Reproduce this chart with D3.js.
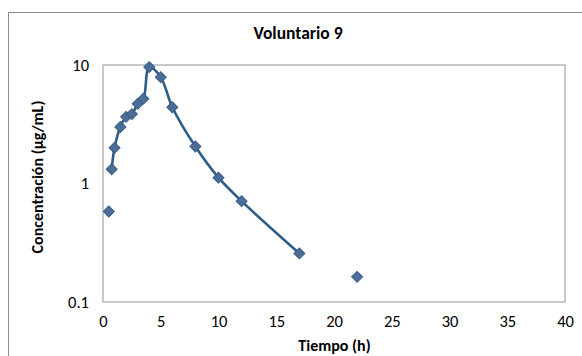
<!DOCTYPE html>
<html>
<head>
<meta charset="utf-8">
<script src="https://cdn.jsdelivr.net/npm/d3@7"></script>
<style>
  body { margin: 0; background: #fff; }
  text { font-family: Calibri, Carlito, "Open Sans", "Noto Sans", sans-serif; fill: #000; }
</style>
</head>
<body>
<script>
// measured points (h, ug/mL)
var tiempo = [0.5, 0.75, 1, 1.5, 2, 2.5, 3, 3.5, 4, 5, 6, 8, 10, 12, 17, 22];
var concentracion = [0.58, 1.32, 2.0, 3.0, 3.65, 3.85, 4.7, 5.2, 9.6, 7.9, 4.4, 2.05, 1.12, 0.71, 0.257, 0.163];
// fitted curve runs from the 2nd point to the 17 h point
var curveFrom = 1, curveTo = 14;
var xTicks = [0, 5, 10, 15, 20, 25, 30, 35, 40];
var yTicks = [0.1, 1, 10];

var width = 582, height = 356;
var plot = {left: 103, right: 565, top: 65, bottom: 302};

var svg = d3.select("body").append("svg")
    .attr("width", width).attr("height", height);

// outer chart frame
svg.append("rect")
    .attr("x", 8.5).attr("y", 12.5)
    .attr("width", width).attr("height", height)
    .attr("fill", "#fff")
    .attr("stroke", "#8c8c8c").attr("stroke-width", 1);

var x = d3.scaleLinear().domain([0, 40]).range([plot.left, plot.right]);
var y = d3.scaleLog().domain([0.1, 10]).range([plot.bottom, plot.top]);

// plot area border
svg.append("rect")
    .attr("x", plot.left).attr("y", plot.top)
    .attr("width", plot.right - plot.left).attr("height", plot.bottom - plot.top)
    .attr("fill", "none").attr("stroke", "#a6a6a6").attr("stroke-width", 1.2);

var xaxis = d3.axisBottom(x).tickValues(xTicks).tickSize(0).tickPadding(13).tickFormat(d3.format("d"));
var yaxis = d3.axisLeft(y).tickValues(yTicks).tickSize(0).tickPadding(14).tickFormat(function(d){ return String(d); });

var gx = svg.append("g").attr("transform", "translate(0," + plot.bottom + ")").call(xaxis);
var gy = svg.append("g").attr("transform", "translate(" + plot.left + ",0)").call(yaxis);
[gx, gy].forEach(function(g){
  g.select(".domain").remove();
  g.selectAll("text").style("font-size", "16.5px").attr("fill", "#000");
});

var pts = tiempo.map(function(t, i){ return {t: t, c: concentracion[i]}; });

var line = d3.line()
    .x(function(d){ return x(d.t); })
    .y(function(d){ return y(d.c); })
    .curve(d3.curveCatmullRom.alpha(0.5));

svg.append("path")
    .datum(pts.slice(curveFrom, curveTo + 1))
    .attr("d", line)
    .attr("fill", "none")
    .attr("stroke", "#2b5d88")
    .attr("stroke-width", 2.6);

var diamond = d3.symbol().type(d3.symbolSquare).size(60);
svg.append("g").selectAll("path")
    .data(pts)
    .enter().append("path")
    .attr("d", diamond)
    .attr("transform", function(d){ return "translate(" + x(d.t) + "," + y(d.c) + ") rotate(45)"; })
    .attr("fill", "#4a6e98")
    .attr("stroke", "#3b5c84")
    .attr("stroke-width", 1);

svg.append("text")
    .attr("x", 298).attr("y", 39)
    .attr("text-anchor", "middle")
    .style("font-size", "17.5px").style("font-weight", "bold")
    .text("Voluntario 9");

svg.append("text")
    .attr("x", 334.5).attr("y", 351)
    .attr("text-anchor", "middle")
    .style("font-size", "16px").style("font-weight", "bold")
    .text("Tiempo (h)");

svg.append("text")
    .attr("transform", "translate(43,177) rotate(-90)")
    .attr("text-anchor", "middle")
    .style("font-size", "16px").style("font-weight", "bold")
    .text("Concentración (µg/mL)");
</script>
</body>
</html>
